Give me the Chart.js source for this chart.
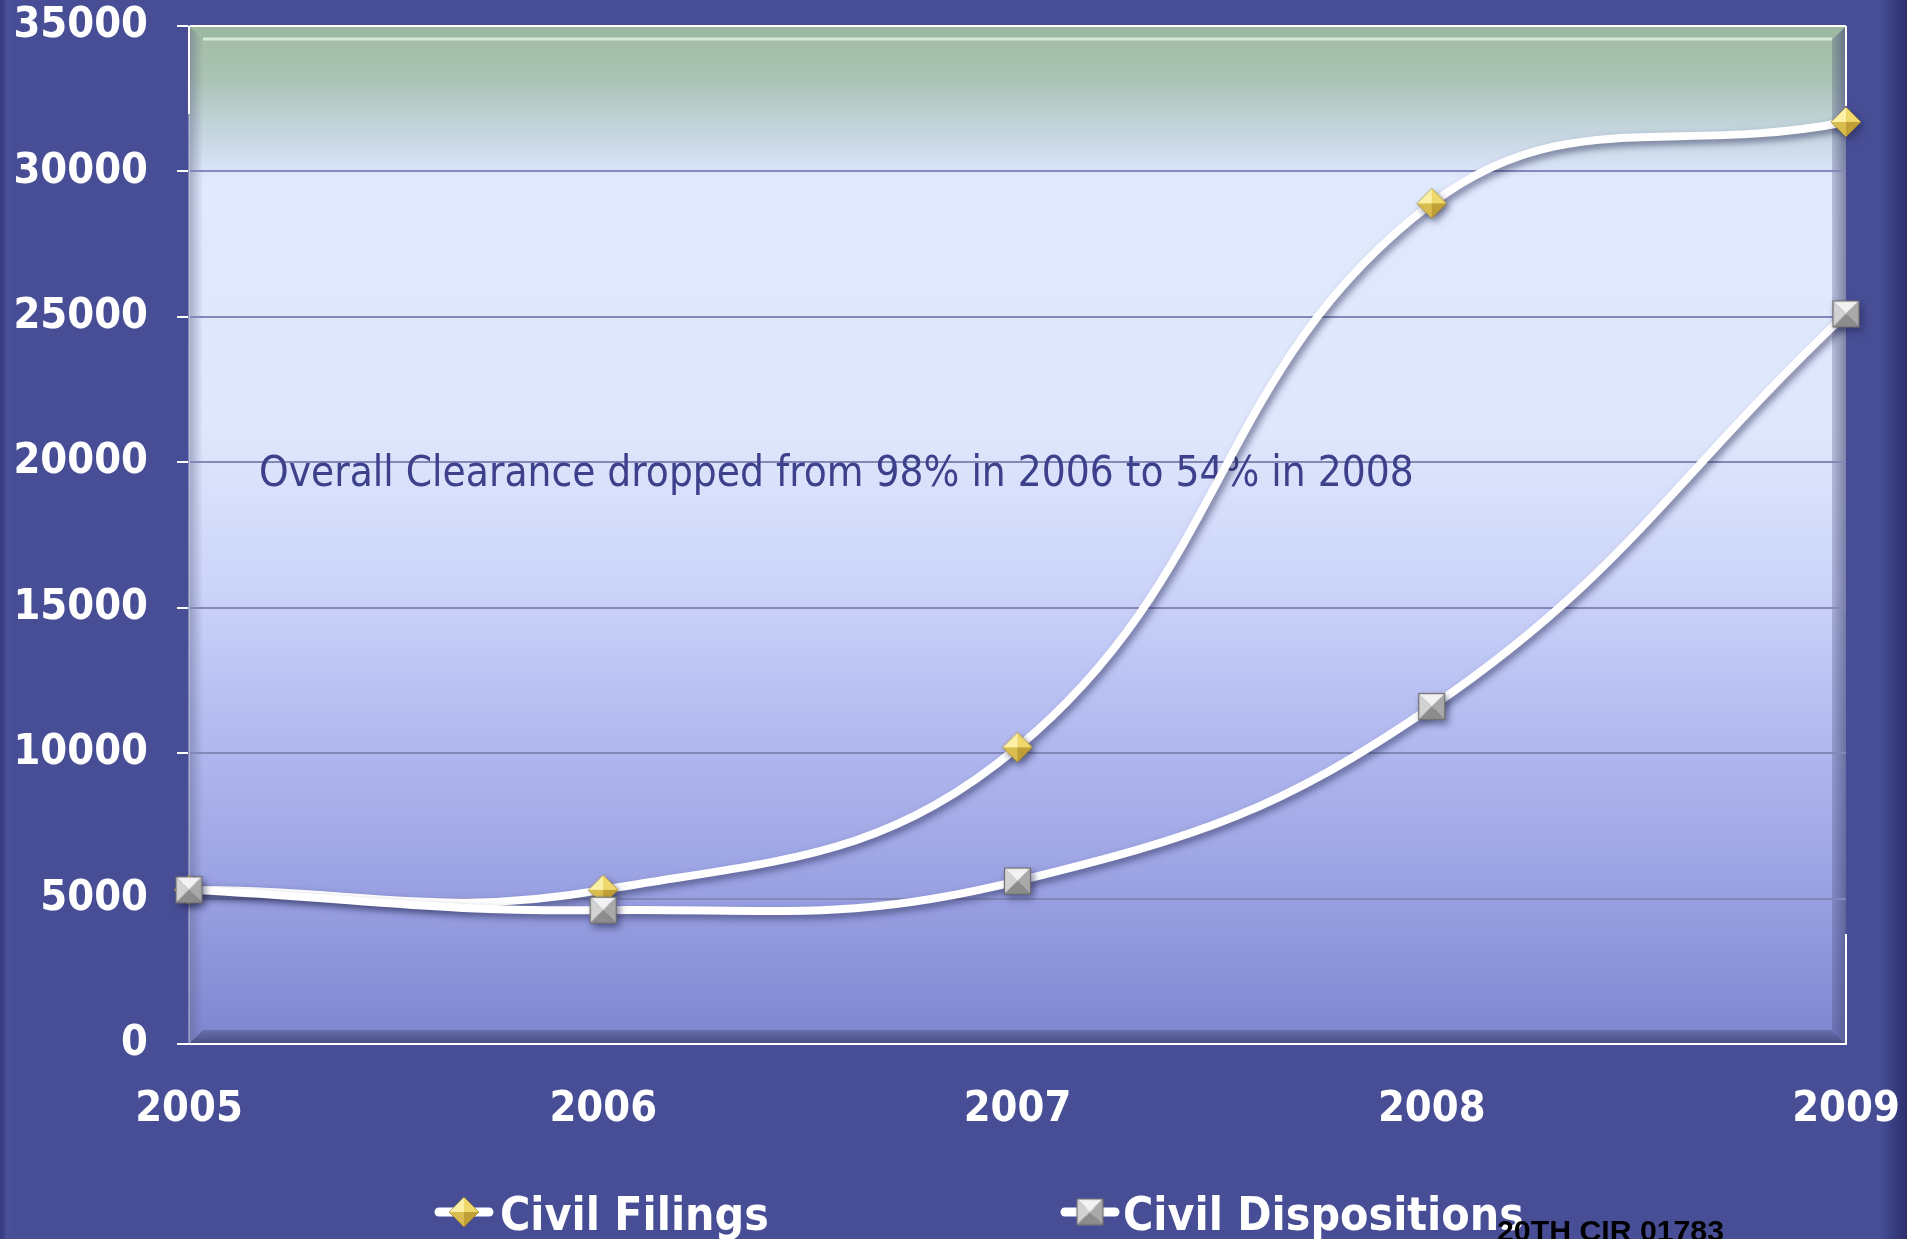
<!DOCTYPE html>
<html><head><meta charset="utf-8">
<script src="https://cdn.jsdelivr.net/npm/chart.js@4.4.0/dist/chart.umd.min.js"></script>
<style>
html,body{margin:0;padding:0;width:1907px;height:1239px;overflow:hidden;}
body{background:linear-gradient(to right,#363b80 0px,#3d438b 4px,#4a519a 7px,#474e96 12px,#474e96 1880px,#3f4589 1888px,#33387a 1898px,#2c306c 1907px);}
#wrap{position:absolute;left:0;top:0;width:1907px;height:1239px;}
</style></head><body>
<div id="wrap"><canvas id="c" width="1907" height="1239"></canvas></div>
<script>
// ---- data ----
const years = ['2005', '2006', '2007', '2008', '2009'];
const civilFilings = [5300, 5300, 10200, 28900, 31700];
const civilDispositions = [5300, 4600, 5600, 11600, 25100];
const yMin = 0, yMax = 35000, yStep = 5000;
const seriesNames = ['Civil Filings', 'Civil Dispositions'];
const annotationText = 'Overall Clearance dropped from 98% in 2006 to 54% in 2008';
const footerText = '20TH CIR 01783';

const FONT = "'DejaVu Sans Condensed', 'DejaVu Sans', sans-serif";

function makeDiamond(size) {
  const pad = 4, w = size + pad * 2;
  const c = document.createElement('canvas'); c.width = w; c.height = w;
  const g = c.getContext('2d');
  const cx = w / 2, cy = w / 2, r = size / 2;
  const T = [cx, cy - r], R = [cx + r, cy], B = [cx, cy + r], L = [cx - r, cy], C = [cx, cy];
  const tri = (a, b, col) => { g.beginPath(); g.moveTo(C[0], C[1]); g.lineTo(a[0], a[1]); g.lineTo(b[0], b[1]); g.closePath(); g.fillStyle = col; g.fill(); };
  tri(L, T, '#fbf0a6'); tri(T, R, '#efd96c'); tri(R, B, '#bf9f36'); tri(B, L, '#d9bd4e');
  g.beginPath(); g.moveTo(T[0], T[1]); g.lineTo(R[0], R[1]); g.lineTo(B[0], B[1]); g.lineTo(L[0], L[1]); g.closePath();
  g.strokeStyle = 'rgba(150,120,30,0.6)'; g.lineWidth = 1; g.stroke();
  return c;
}
function makeSquare(size) {
  const pad = 3, w = size + pad * 2;
  const c = document.createElement('canvas'); c.width = w; c.height = w;
  const g = c.getContext('2d');
  const x0 = pad, y0 = pad, x1 = pad + size, y1 = pad + size, cx = w / 2, cy = w / 2;
  const quad = (pts, col) => { g.beginPath(); g.moveTo(pts[0][0], pts[0][1]); for (let i = 1; i < pts.length; i++) g.lineTo(pts[i][0], pts[i][1]); g.closePath(); g.fillStyle = col; g.fill(); };
  quad([[x0, y0], [x1, y0], [cx, cy]], '#f2f2f2');
  quad([[x0, y0], [cx, cy], [x0, y1]], '#d2d2d2');
  quad([[x1, y0], [x1, y1], [cx, cy]], '#a9a9a9');
  quad([[x0, y1], [cx, cy], [x1, y1]], '#8c8c8c');
  g.strokeStyle = '#6f6f6f'; g.lineWidth = 1.2; g.strokeRect(x0 + 0.5, y0 + 0.5, size - 1, size - 1);
  return c;
}
const diamondImg = makeDiamond(30);
const squareImg = makeSquare(27);

function legendIcon(marker) {
  const c = document.createElement('canvas'); c.width = 62; c.height = 36;
  const g = c.getContext('2d');
  g.strokeStyle = '#ffffff'; g.lineWidth = 9; g.lineCap = 'round';
  g.beginPath(); g.moveTo(6, 18); g.lineTo(56, 18); g.stroke();
  g.drawImage(marker, 31 - marker.width / 2, 18 - marker.height / 2);
  return c;
}
const legendIcons = [legendIcon(diamondImg), legendIcon(squareImg)];

const plotBg = {
  id: 'plotBg',
  beforeDraw(chart) {
    const {ctx, chartArea: a} = chart;
    ctx.save();
    const gr = ctx.createLinearGradient(0, a.top, 0, a.bottom);
    gr.addColorStop(0.0, '#a1bba5');
    gr.addColorStop(0.05, '#aac3b2');
    gr.addColorStop(0.10, '#c3d4dd');
    gr.addColorStop(0.142, '#d9e3f7');
    gr.addColorStop(0.15, '#e1e9fd');
    gr.addColorStop(0.40, '#dfe7fc');
    gr.addColorStop(0.55, '#ccd4fa');
    gr.addColorStop(0.70, '#b1b9ef');
    gr.addColorStop(0.85, '#9aa1e2');
    gr.addColorStop(1.0, '#7d85d0');
    ctx.fillStyle = gr;
    ctx.fillRect(a.left, a.top, a.right - a.left, a.bottom - a.top);
    const bw = 14;
    let g2 = ctx.createLinearGradient(a.left, 0, a.left + bw, 0);
    g2.addColorStop(0, 'rgba(90,95,130,0.45)'); g2.addColorStop(1, 'rgba(90,95,130,0)');
    ctx.fillStyle = g2;
    ctx.beginPath(); ctx.moveTo(a.left, a.top); ctx.lineTo(a.left + bw, a.top + bw); ctx.lineTo(a.left + bw, a.bottom - bw); ctx.lineTo(a.left, a.bottom); ctx.closePath(); ctx.fill();
    g2 = ctx.createLinearGradient(a.right - bw, 0, a.right, 0);
    g2.addColorStop(0, 'rgba(60,65,110,0.25)'); g2.addColorStop(1, 'rgba(60,65,110,0.6)');
    ctx.fillStyle = g2;
    ctx.beginPath(); ctx.moveTo(a.right, a.top); ctx.lineTo(a.right - bw, a.top + bw); ctx.lineTo(a.right - bw, a.bottom - bw); ctx.lineTo(a.right, a.bottom); ctx.closePath(); ctx.fill();
    g2 = ctx.createLinearGradient(0, a.bottom - bw, 0, a.bottom);
    g2.addColorStop(0, 'rgba(55,60,105,0.35)'); g2.addColorStop(1, 'rgba(55,60,105,0.75)');
    ctx.fillStyle = g2;
    ctx.beginPath(); ctx.moveTo(a.left, a.bottom); ctx.lineTo(a.left + bw, a.bottom - bw); ctx.lineTo(a.right - bw, a.bottom - bw); ctx.lineTo(a.right, a.bottom); ctx.closePath(); ctx.fill();
    ctx.fillStyle = 'rgba(150,180,155,0.5)';
    ctx.beginPath(); ctx.moveTo(a.left, a.top); ctx.lineTo(a.right, a.top); ctx.lineTo(a.right - bw, a.top + bw); ctx.lineTo(a.left + bw, a.top + bw); ctx.closePath(); ctx.fill();
    ctx.strokeStyle = 'rgba(220,240,222,0.9)'; ctx.lineWidth = 3;
    ctx.beginPath(); ctx.moveTo(a.left + bw, a.top + bw - 1); ctx.lineTo(a.right - bw, a.top + bw - 1); ctx.stroke();
    ctx.restore();
  },
  beforeDatasetsDraw(chart) {
    const {ctx, chartArea: a, scales} = chart;
    ctx.save();
    ctx.strokeStyle = '#ffffff'; ctx.lineWidth = 2;
    ctx.beginPath();
    ctx.moveTo(a.left, a.top); ctx.lineTo(a.left, a.top + 88);
    ctx.moveTo(a.right, a.top); ctx.lineTo(a.right, a.top + 80);
    ctx.moveTo(a.right, a.bottom - 110); ctx.lineTo(a.right, a.bottom);
    ctx.stroke();
    let fs = 40;
    ctx.font = `${fs}px ${FONT}`;
    const w = ctx.measureText(annotationText).width;
    fs = fs * 1155 / w;
    ctx.font = `${fs}px ${FONT}`;
    ctx.fillStyle = '#3d418b';
    ctx.textAlign = 'left'; ctx.textBaseline = 'alphabetic';
    ctx.fillText(annotationText, 259, scales.y.getPixelForValue(20000) + 24);
    ctx.restore();
  },
  beforeDatasetDraw(chart) {
    const ctx = chart.ctx;
    ctx.save();
    ctx.shadowColor = 'rgba(35,38,80,0.55)';
    ctx.shadowBlur = 7; ctx.shadowOffsetX = 3; ctx.shadowOffsetY = 4;
  },
  afterDatasetDraw(chart) { chart.ctx.restore(); },
  afterDraw(chart) {
    const ctx = chart.ctx;
    ctx.save();
    const items = [
      {icon: legendIcons[0], iconX: 433, textX: 500},
      {icon: legendIcons[1], iconX: 1059, textX: 1123}
    ];
    ctx.font = `bold 46px ${FONT}`;
    ctx.fillStyle = '#ffffff'; ctx.textAlign = 'left'; ctx.textBaseline = 'alphabetic';
    chart.data.datasets.forEach((ds, i) => {
      const it = items[i];
      ctx.drawImage(it.icon, it.iconX, 1212 - it.icon.height / 2);
      ctx.fillText(ds.label, it.textX, 1230);
    });
    let fs = 37;
    ctx.font = `bold ${fs}px 'Liberation Sans Narrow', 'Liberation Sans', sans-serif`;
    const w = ctx.measureText(footerText).width;
    fs = fs * 227 / w;
    ctx.font = `bold ${fs}px 'Liberation Sans Narrow', 'Liberation Sans', sans-serif`;
    ctx.fillStyle = '#000000';
    ctx.fillText(footerText, 1497, 1241);
    ctx.restore();
  }
};

const gridColor = '#8388b9';
new Chart(document.getElementById('c'), {
  type: 'line',
  data: {
    labels: years,
    datasets: [
      {label: seriesNames[0], data: civilFilings, borderColor: '#ffffff', borderWidth: 8, tension: 0.42,
       pointStyle: diamondImg, pointRadius: 15, fill: false, order: 1},
      {label: seriesNames[1], data: civilDispositions, borderColor: '#ffffff', borderWidth: 8, tension: 0.42,
       pointStyle: squareImg, pointRadius: 14, fill: false, order: 0}
    ]
  },
  options: {
    responsive: false, animation: false, devicePixelRatio: 1,
    layout: {padding: {left: 0, right: 61, top: 26, bottom: 95}},
    plugins: {legend: {display: false}, tooltip: {enabled: false}},
    scales: {
      x: {
        grid: {display: false, drawTicks: false},
        border: {display: true, color: '#ffffff', width: 2},
        ticks: {color: '#ffffff', font: {family: FONT, size: 43, weight: 'bold'}, padding: 40, maxRotation: 0, autoSkip: false},
        afterFit(s) { s.height = 100; s.paddingLeft = 0; s.paddingRight = 0; }
      },
      y: {
        min: yMin, max: yMax,
        grid: {color: c => (c.tick && c.tick.value === yMax) ? '#ffffff' : gridColor, lineWidth: 2, tickColor: '#ffffff', tickLength: 12, tickWidth: 2},
        border: {display: true, color: 'rgba(235,238,250,0.35)', width: 2},
        ticks: {stepSize: yStep, color: '#ffffff', font: {family: FONT, size: 43, weight: 'bold'}, padding: 29,
                callback: v => String(v)},
        afterFit(s) { s.width = 189; s.paddingTop = 0; s.paddingBottom = 0; }
      }
    }
  },
  plugins: [plotBg]
});
</script>
</body></html>
